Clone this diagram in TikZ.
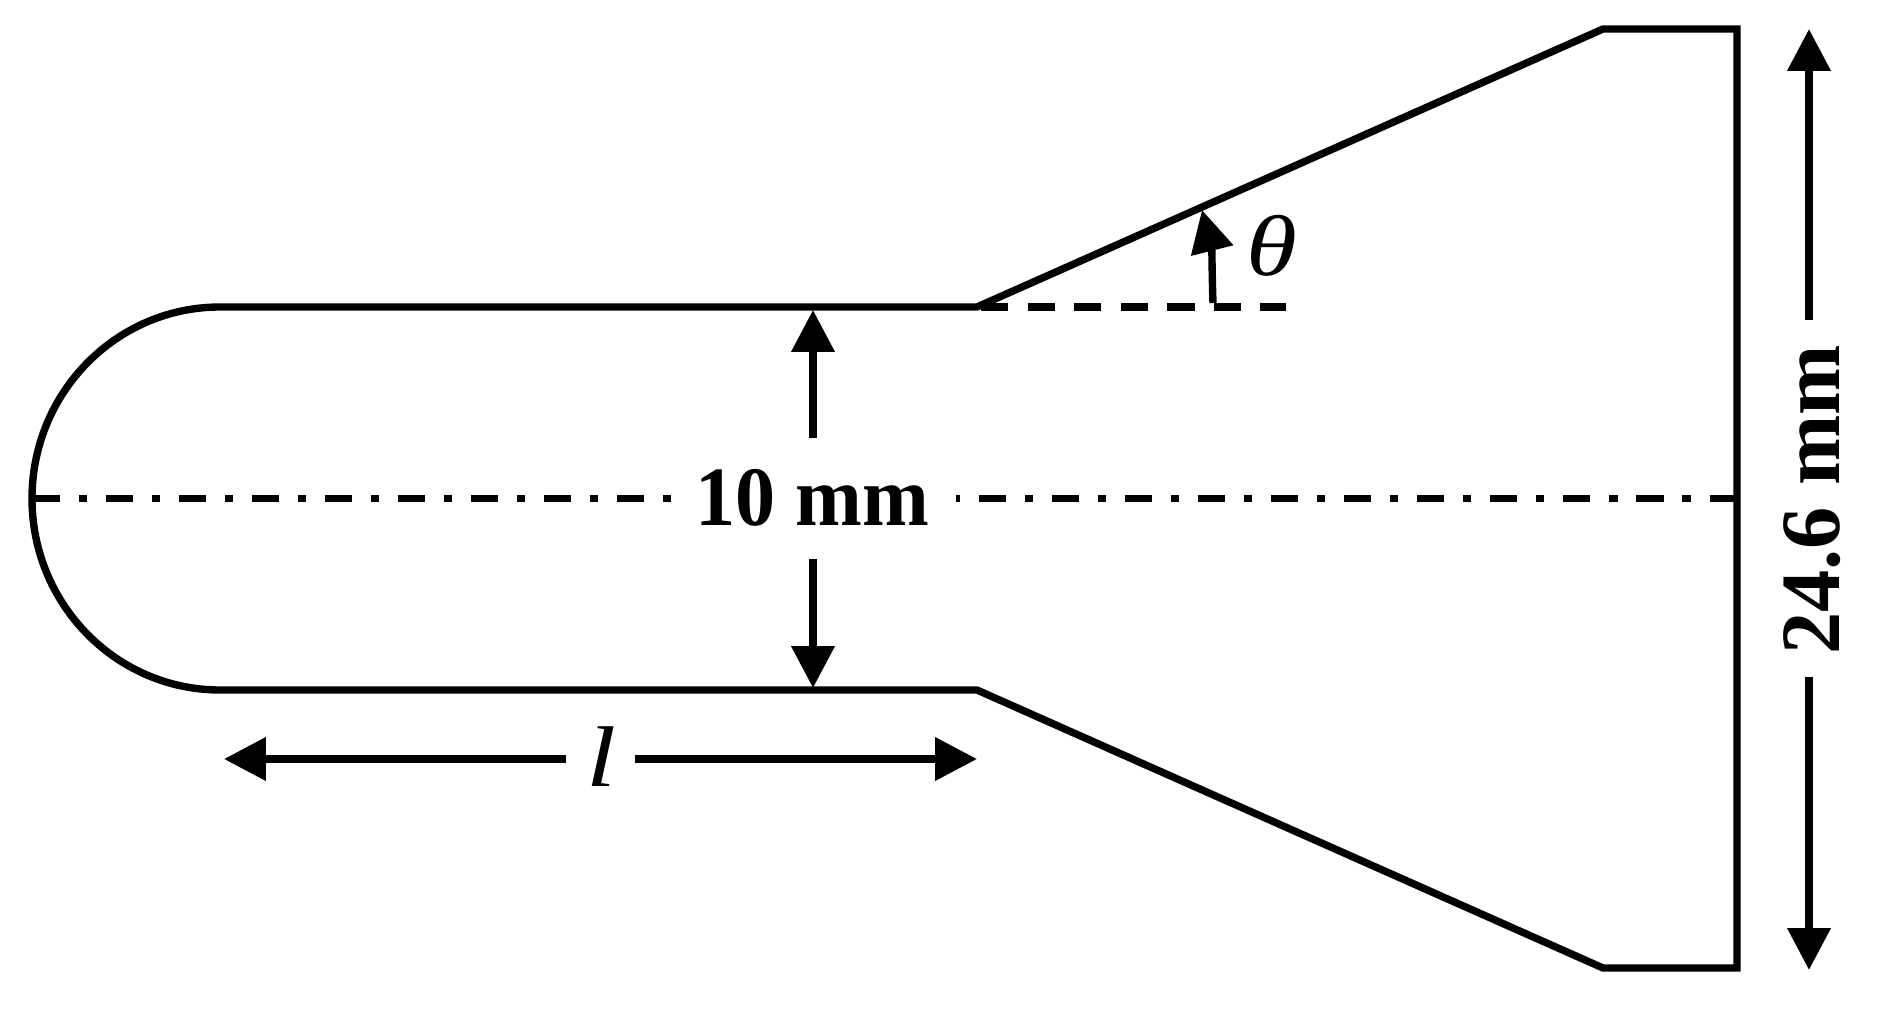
\documentclass[tikz,border=0pt]{standalone}
\usepackage{fontspec}
\setmainfont{Liberation Serif}
\usetikzlibrary{arrows.meta}

\begin{document}
\begin{tikzpicture}[x=0.01cm,y=-0.01cm,
	outline/.style={line width=2.1pt,line join=miter},
	dimend/.style={line width=2.1pt,-{Triangle[length=11.9pt,width=11.9pt]}},
	axisline/.style={line width=2.2pt,dash pattern=on 7.68pt off 5.4pt on 2.29pt off 5.4pt},
	guideline/.style={line width=2.2pt,dash pattern=on 7.8pt off 5.43pt,dash phase=12.1pt},
	boldlabel/.style={font=\fontsize{24}{24}\selectfont\bfseries,inner sep=0pt},
	italiclabel/.style={font=\fontsize{24.5}{25}\selectfont\itshape,inner sep=0pt}]
	\useasboundingbox (0,0) rectangle (1882,1010);

	% corners of the outline
	\coordinate (nosetop) at (220,307);
	\coordinate (nosebot) at (220,690);
	\coordinate (necktop) at (977,307);
	\coordinate (neckbot) at (977,690);
	\coordinate (flaretop) at (1603,29);
	\coordinate (flarebot) at (1603,968);
	\coordinate (endtop) at (1737,29);
	\coordinate (endbot) at (1737,968);
	\coordinate (noseleft) at (33,498.5);
	\coordinate (endmid) at (1737,498.5);

	\draw[outline] (nosetop) -- (necktop) -- (flaretop) -- (endtop) -- (endbot)
		-- (flarebot) -- (neckbot) -- (nosebot)
		arc[start angle=90,end angle=270,x radius=188,y radius=191.5] -- cycle;

	% labels
	\node[boldlabel] (width) at (812,498) {\scalebox{0.95}[1]{10 mm}};
	\node[boldlabel,rotate=90] (height) at (1812,500) {24.6 mm};
	\node[italiclabel] (length) at (601,757) {\scalebox{1.25}[1]{l}};
	\node[italiclabel] (theta) at (1272,246) {\scalebox{1.2}[1]{θ}};

	% centre line
	\coordinate (axisleft) at (671,498.5);
	\coordinate (axisright) at (956,498.5);
	\draw[axisline] (noseleft) -- (axisleft);
	\draw[axisline,dash phase=14.2pt] (axisright) -- (endmid);

	% width arrows
	\coordinate (widthup) at (813,438);
	\coordinate (widthtip) at (813,310);
	\coordinate (widthdown) at (813,559);
	\coordinate (widthbot) at (813,688);
	\draw[dimend] (widthup) -- (widthtip);
	\draw[dimend] (widthdown) -- (widthbot);

	% length arrows
	\coordinate (lenleft) at (224,759);
	\coordinate (lenlstop) at (566,759);
	\coordinate (lenrstart) at (635,759);
	\coordinate (lenright) at (977,759);
	\draw[dimend] (lenlstop) -- (lenleft);
	\draw[dimend] (lenrstart) -- (lenright);

	% height arrows
	\coordinate (hgttop) at (1809,29);
	\coordinate (hgtup) at (1809,320);
	\coordinate (hgtdown) at (1809,677);
	\coordinate (hgtbot) at (1809,970);
	\draw[dimend] (hgtup) -- (hgttop);
	\draw[dimend] (hgtdown) -- (hgtbot);

	% angle
	\coordinate (guideend) at (1286,307);
	\coordinate (anglefoot) at (1213,303);
	\coordinate (anglebenda) at (1212,275);
	\coordinate (anglebendb) at (1212,250);
	\coordinate (angletip) at (1202,210);
	\draw[guideline] (necktop) -- (guideend);
	\draw[dimend] (anglefoot) .. controls (anglebenda) and (anglebendb) .. (angletip);
\end{tikzpicture}
\end{document}
